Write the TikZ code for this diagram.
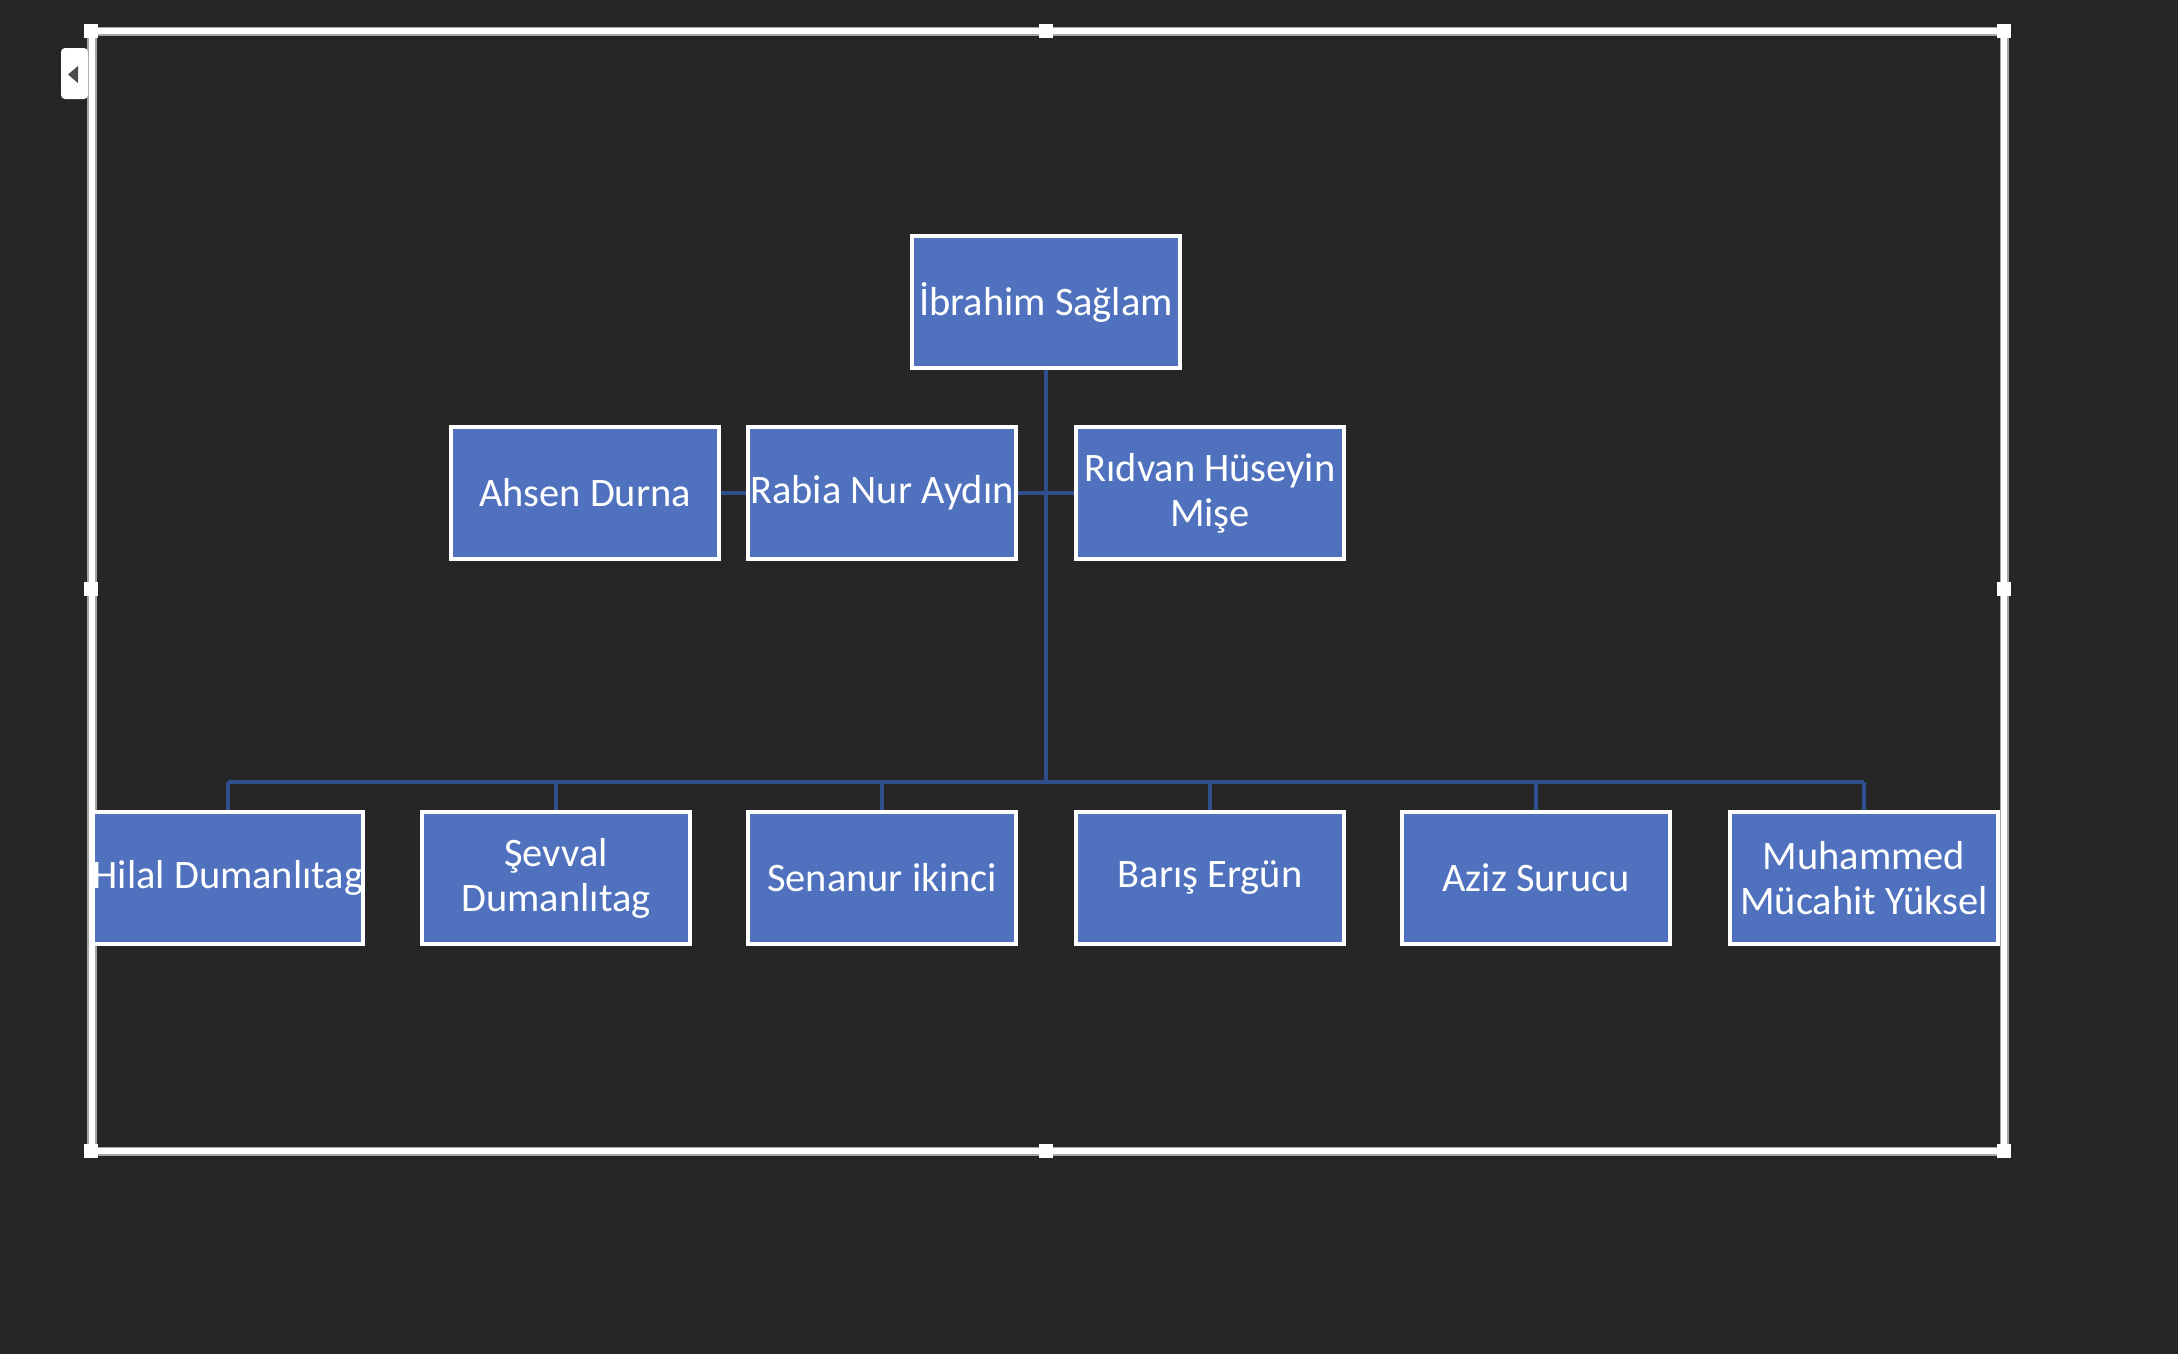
\documentclass[tikz,border=0pt]{standalone}
\usepackage{fontspec}
\setmainfont{Carlito}
\definecolor{bg}{HTML}{262626}
\definecolor{boxfill}{HTML}{5072BE}
\definecolor{conncol}{HTML}{2F4E8E}
\definecolor{tri}{HTML}{4A4A4A}
\begin{document}
\begin{tikzpicture}[x=0.01cm,y=-0.01cm,
  person/.style={draw=white, line width=0.04cm, fill=boxfill, text=white,
    minimum width=2.67cm, minimum height=1.31cm, inner sep=0pt, align=center,
    font=\fontsize{11.5}{12.8}\selectfont},
  conn/.style={draw=conncol, line width=0.04cm},
  handle/.style={fill=white, draw=none, minimum size=0.14cm, inner sep=0pt}]
\fill[bg] (0,0) rectangle (2178,1354);
\useasboundingbox (0,0) rectangle (2178,1354);
% selection frame
\draw[line width=0.09cm, color=black!35] (92,31) rectangle (2004,1151);
\draw[line width=0.06cm, white] (92,31) rectangle (2004,1151);
% left tab
\fill[white, rounded corners=0.04cm] (61,48) rectangle (88,99);
\fill[tri] (68,74.5) -- (78,66) -- (78,83) -- cycle;
% handles
\node[handle] (h1) at (91,31) {};
\node[handle] (h2) at (1046,31) {};
\node[handle] (h3) at (2004,31) {};
\node[handle] (h4) at (91,589) {};
\node[handle] (h5) at (2004,589) {};
\node[handle] (h6) at (91,1151) {};
\node[handle] (h7) at (1046,1151) {};
\node[handle] (h8) at (2004,1151) {};
\coordinate (bus) at (1046,782);
\node[person] (top) at (1046,302) {İbrahim Sağlam};
\node[person] (ahsen) at (585,493) {Ahsen Durna};
\node[person] (rabia) at (882,493) {Rabia Nur Aydın};
\node[person] (ridvan) at (1210,493) {Rıdvan Hüseyin\\Mişe};
\node[person] (hilal) at (228,878) {Hilal Dumanlıtag};
\node[person] (sevval) at (556,878) {Şevval\\Dumanlıtag};
\node[person] (senanur) at (882,878) {Senanur ikinci};
\node[person] (baris) at (1210,878) {Barış Ergün};
\node[person] (aziz) at (1536,878) {Aziz Surucu};
\node[person] (muh) at (1864,878) {Muhammed\\Mücahit Yüksel};
\draw[conn] (top.south) -- (bus);
\draw[conn] (rabia.east) -- (ridvan.west);
\draw[conn] (ahsen.east) -- (rabia.west);
\draw[conn] (hilal.north |- bus) -- (muh.north |- bus);
\foreach \n in {hilal,sevval,senanur,baris,aziz,muh}
  \draw[conn] (\n.north |- bus) -- (\n.north);
\end{tikzpicture}
\end{document}
